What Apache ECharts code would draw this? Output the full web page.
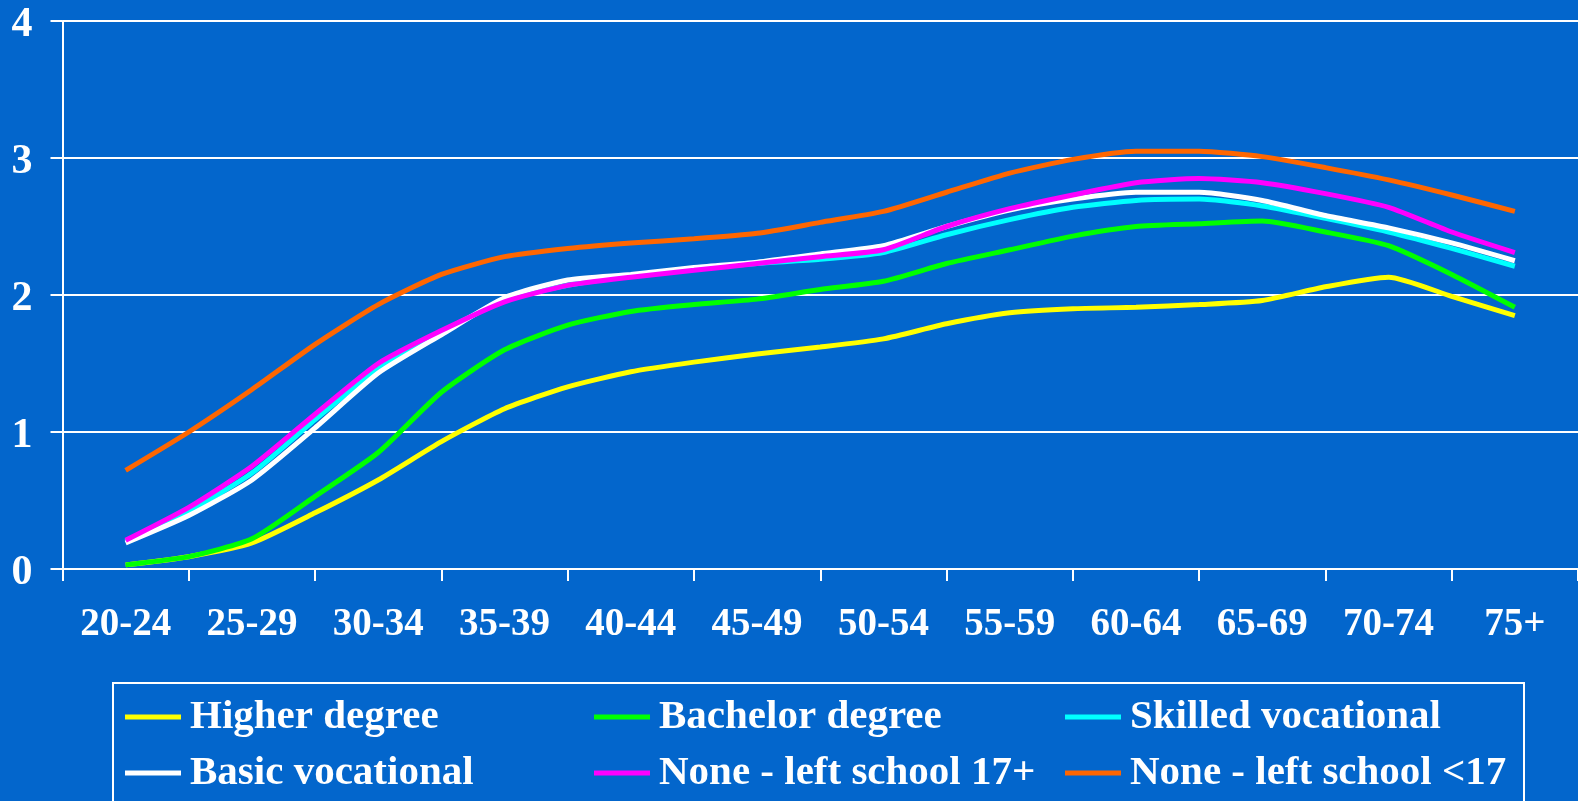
<!DOCTYPE html>
<html>
<head>
<meta charset="utf-8">
<script src="https://cdn.jsdelivr.net/npm/echarts@6/dist/echarts.min.js"></script>
<style>
  html, body { margin: 0; padding: 0; background: #0366cc; }
  #chart { width: 1578px; height: 801px; }
</style>
</head>
<body>
<div id="chart"></div>
<script>
const ageGroups = ["20-24", "25-29", "30-34", "35-39", "40-44", "45-49",
  "50-54", "55-59", "60-64", "65-69", "70-74", "75+"];

// x positions in category units (0 = first age group), half-group steps
const steps = [0, 0.5, 1, 1.5, 2, 2.5, 3, 3.5, 4, 4.5, 5, 5.5,
  6, 6.5, 7, 7.5, 8, 8.5, 9, 9.5, 10, 10.5, 11];

const higherDegree = [0.03, 0.09, 0.19, 0.41, 0.65, 0.93, 1.17, 1.33, 1.44, 1.51, 1.57, 1.62,
  1.68, 1.79, 1.87, 1.90, 1.91, 1.93, 1.96, 2.06, 2.13, 1.99, 1.85];
const bachelorDegree = [0.03, 0.09, 0.22, 0.53, 0.85, 1.29, 1.60, 1.78, 1.88, 1.93, 1.97, 2.04,
  2.10, 2.23, 2.33, 2.43, 2.50, 2.52, 2.54, 2.46, 2.36, 2.15, 1.91];
const skilledVocational = [0.20, 0.42, 0.70, 1.09, 1.46, 1.73, 1.96, 2.07, 2.14, 2.19, 2.23, 2.26,
  2.31, 2.44, 2.55, 2.64, 2.69, 2.70, 2.65, 2.56, 2.46, 2.34, 2.21];
const basicVocational = [0.19, 0.39, 0.65, 1.03, 1.43, 1.71, 1.98, 2.11, 2.15, 2.20, 2.24, 2.30,
  2.36, 2.50, 2.62, 2.70, 2.75, 2.75, 2.69, 2.58, 2.49, 2.38, 2.25];
const leftSchool17Plus = [0.21, 0.45, 0.75, 1.13, 1.50, 1.74, 1.95, 2.07, 2.13, 2.18, 2.23, 2.28,
  2.33, 2.50, 2.63, 2.73, 2.82, 2.85, 2.82, 2.74, 2.64, 2.46, 2.31];
const leftSchoolUnder17 = [0.72, 1.00, 1.31, 1.64, 1.93, 2.15, 2.28, 2.34, 2.38, 2.41, 2.45, 2.53,
  2.61, 2.75, 2.89, 2.99, 3.05, 3.05, 3.01, 2.93, 2.84, 2.73, 2.61];

const yTicks = [0, 1, 2, 3, 4];

const seriesDefs = [
  { name: "Higher degree", values: higherDegree, color: "#ffff00" },
  { name: "Bachelor degree", values: bachelorDegree, color: "#00ff00" },
  { name: "Skilled vocational", values: skilledVocational, color: "#00ffff" },
  { name: "Basic vocational", values: basicVocational, color: "#ffffff" },
  { name: "None - left school 17+", values: leftSchool17Plus, color: "#ff00ff" },
  { name: "None - left school <17", values: leftSchoolUnder17, color: "#ff6600" },
];

const font = "Liberation Serif";

const legendBase = {
  type: "plain",
  orient: "vertical",
  top: 693,
  padding: 0,
  icon: "rect",
  itemWidth: 56,
  itemHeight: 5,
  itemGap: 8,
  textStyle: {
    color: "#fff",
    fontFamily: font,
    fontWeight: "bold",
    fontSize: 41,
    lineHeight: 48,
    padding: [0, 0, 0, 4],
  },
};

const chart = echarts.init(document.getElementById("chart"));
chart.setOption({
  backgroundColor: "#0366cc",
  animation: false,
  grid: { left: 62.5, right: 0, top: 21, bottom: 232 },
  xAxis: [
    {
      type: "category",
      data: ageGroups,
      boundaryGap: true,
      axisLine: { lineStyle: { color: "#fff", width: 2 } },
      axisTick: { show: true, length: 12, inside: false, lineStyle: { color: "#fff", width: 2 } },
      axisLabel: {
        color: "#fff",
        fontFamily: font,
        fontWeight: "bold",
        fontSize: 39,
        margin: 36,
        interval: 0,
      },
      splitLine: { show: false },
    },
    {
      type: "value",
      min: -0.5,
      max: 11.5,
      show: false,
    },
  ],
  yAxis: {
    type: "value",
    min: 0,
    max: 4,
    interval: 1,
    axisLine: { show: true, onZero: false, lineStyle: { color: "#fff", width: 2 } },
    axisTick: { show: true, length: 12, lineStyle: { color: "#fff", width: 2 } },
    axisLabel: {
      color: "#fff",
      fontFamily: font,
      fontWeight: "bold",
      fontSize: 42,
      margin: 30,
      formatter: (v) => (yTicks.includes(v) ? "{n|" + v + "}" : ""),
      rich: {
        n: {
          color: "#fff",
          fontFamily: font,
          fontWeight: "bold",
          fontSize: 42,
          padding: [8, 0, 0, 0],
        },
      },
    },
    splitLine: { show: true, lineStyle: { color: "#fff", width: 2 } },
  },
  legend: [
    Object.assign({}, legendBase, { left: 125, data: ["Higher degree", "Basic vocational"] }),
    Object.assign({}, legendBase, { left: 594, data: ["Bachelor degree", "None - left school 17+"] }),
    Object.assign({}, legendBase, { left: 1065, data: ["Skilled vocational", "None - left school <17"] }),
  ],
  graphic: [
    {
      type: "rect",
      shape: { x: 113, y: 683, width: 1411, height: 140 },
      style: { fill: "none", stroke: "#fff", lineWidth: 2 },
      silent: true,
    },
  ],
  series: seriesDefs.map((s) => ({
    name: s.name,
    type: "line",
    xAxisIndex: 1,
    data: steps.map((x, i) => [x, s.values[i]]),
    showSymbol: false,
    smooth: 0.2,
    color: s.color,
    lineStyle: { color: s.color, width: 5 },
  })),
});
</script>
</body>
</html>
